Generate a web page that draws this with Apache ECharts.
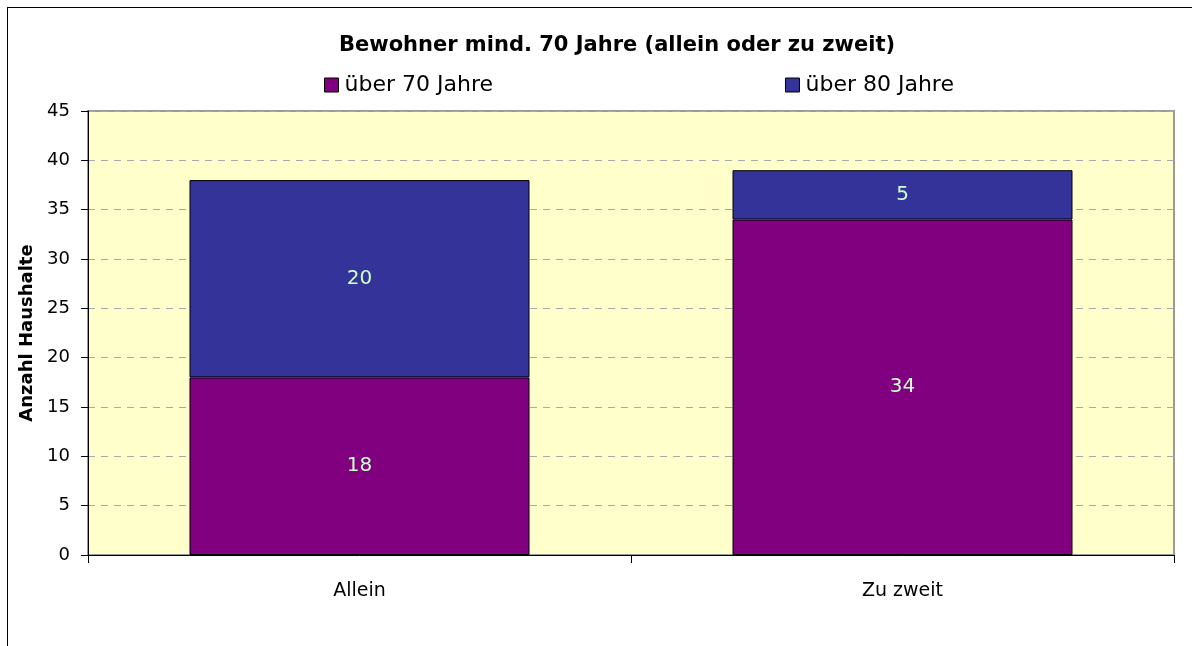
<!DOCTYPE html>
<html><head><meta charset="utf-8">
<script src="https://cdn.jsdelivr.net/npm/echarts@6/dist/echarts.min.js"></script>
<style>html,body{margin:0;padding:0;background:#fff}#c{width:1192px;height:646px}
#frame{position:absolute;left:7px;top:7px;width:1200px;height:700px;border:1px solid #000;box-sizing:border-box;pointer-events:none}</style>
</head><body><div id="c"></div><div id="frame"></div>
<script>
const categories = ['Allein', 'Zu zweit'];
const over70 = [18, 34];
const over80 = [20, 5];
const seriesNames = ['über 70 Jahre', 'über 80 Jahre'];
const chart = echarts.init(document.getElementById('c'));
const font = '"DejaVu Sans", Arial, sans-serif';
chart.setOption({
  animation: false,
  title: {text: 'Bewohner mind. 70 Jahre (allein oder zu zweit)', left: 612, top: 30, textAlign: 'center',
    textStyle: {fontFamily: font, fontSize: 21, fontWeight: 'bold', color: '#000'}},
  legend: {top: 69, left: 319, itemGap: 292, itemWidth: 14, itemHeight: 14, icon: 'rect',
    textStyle: {fontFamily: font, fontSize: 22, color: '#000', padding: [0, 0, 0, 1]},
    data: seriesNames.map(n => ({name: n, itemStyle: {borderColor: '#000', borderWidth: 1}}))},
  grid: {left: 88, right: 18, top: 111, bottom: 91},
  xAxis: {type: 'category', data: categories,
    axisLine: {lineStyle: {color: '#000', width: 1}},
    axisTick: {show: true, length: 8, lineStyle: {color: '#000'}},
    axisLabel: {fontFamily: font, fontSize: 19, color: '#000', margin: 27}},
  yAxis: {type: 'value', min: 0, max: 45, interval: 5, name: 'Anzahl Haushalte',
    nameLocation: 'middle', nameGap: 50, nameRotate: 90,
    nameTextStyle: {fontFamily: font, fontSize: 18, fontWeight: 'bold', color: '#000'},
    axisLine: {show: true, lineStyle: {color: '#000'}},
    axisTick: {show: true, length: 7, inside: false, lineStyle: {color: '#000'}},
    axisLabel: {fontFamily: font, fontSize: 18, color: '#000', margin: 18},
    splitLine: {lineStyle: {color: '#a8a8a8', type: [7, 6]}},
    splitArea: {show: false}},
  graphic: [{type: 'rect', shape: {x: 88, y: 111, width: 1086, height: 444}, z: -1,
    style: {fill: '#ffffcc', stroke: '#9a9a9a', lineWidth: 2}}],
  series: [
    {name: seriesNames[0], type: 'bar', stack: 's', data: over70, barWidth: 340,
      itemStyle: {color: '#800080', borderColor: '#000', borderWidth: 1},
      label: {show: true, position: 'inside', color: '#ccffcc', fontFamily: font, fontSize: 20}},
    {name: seriesNames[1], type: 'bar', stack: 's', data: over80, barWidth: 340,
      itemStyle: {color: '#333399', borderColor: '#000', borderWidth: 1},
      label: {show: true, position: 'inside', color: '#ccffcc', fontFamily: font, fontSize: 20}}
  ]
});
</script></body></html>
